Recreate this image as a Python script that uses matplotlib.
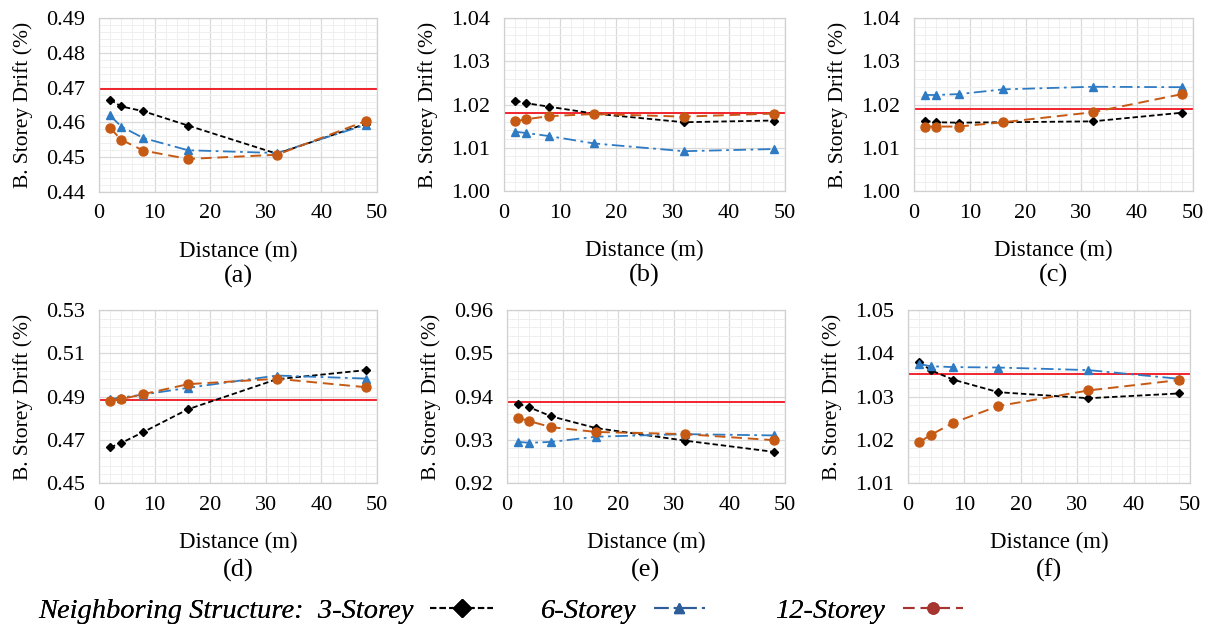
import matplotlib
matplotlib.use("Agg")
import matplotlib.pyplot as plt
from matplotlib.ticker import AutoMinorLocator, FormatStrFormatter
from matplotlib.lines import Line2D

plt.rcParams['font.family'] = ['Liberation Serif', 'DejaVu Serif']

# ---------------- data ----------------
distance = [2, 4, 8, 16, 32, 48]
x_ticks = [0, 10, 20, 30, 40, 50]

a3 = [0.4665, 0.4646, 0.4632, 0.4591, 0.4510, 0.4596]
a6 = [0.4620, 0.4588, 0.4555, 0.4520, 0.4512, 0.4593]
a12 = [0.4584, 0.4550, 0.4519, 0.4495, 0.4507, 0.4604]
a_ref = 0.4696

b3 = [1.0209, 1.0203, 1.0195, 1.0179, 1.0159, 1.0163]
b6 = [1.0137, 1.0134, 1.0127, 1.0110, 1.0092, 1.0097]
b12 = [1.0161, 1.0166, 1.0173, 1.0178, 1.0172, 1.0179]
b_ref = 1.0181

c3 = [1.0162, 1.0159, 1.0158, 1.0159, 1.0161, 1.0181]
c6 = [1.0222, 1.0222, 1.0224, 1.0235, 1.0241, 1.0240]
c12 = [1.0149, 1.0149, 1.0149, 1.0159, 1.0182, 1.0224]
c_ref = 1.0190

d3 = [0.4665, 0.4685, 0.4736, 0.4841, 0.4980, 0.5022]
d6 = [0.4888, 0.4895, 0.4909, 0.4940, 0.4997, 0.4983]
d12 = [0.4880, 0.4888, 0.4911, 0.4957, 0.4982, 0.4943]
d_ref = 0.4883

e3 = [0.9383, 0.9375, 0.9354, 0.9327, 0.9298, 0.9272]
e6 = [0.9295, 0.9293, 0.9295, 0.9307, 0.9313, 0.9310]
e12 = [0.9351, 0.9343, 0.9329, 0.9318, 0.9313, 0.9299]
e_ref = 0.9388

f3 = [1.0380, 1.0361, 1.0339, 1.0310, 1.0296, 1.0307]
f6 = [1.0375, 1.0370, 1.0368, 1.0367, 1.0361, 1.0341]
f12 = [1.0194, 1.0211, 1.0239, 1.0278, 1.0314, 1.0338]
f_ref = 1.0353

panel_labels = ['(a)', '(b)', '(c)', '(d)', '(e)', '(f)']
y_ticks = [
    [0.44, 0.45, 0.46, 0.47, 0.48, 0.49],
    [1.00, 1.01, 1.02, 1.03, 1.04],
    [1.00, 1.01, 1.02, 1.03, 1.04],
    [0.45, 0.47, 0.49, 0.51, 0.53],
    [0.92, 0.93, 0.94, 0.95, 0.96],
    [1.01, 1.02, 1.03, 1.04, 1.05],
]
series_labels = ['3-Storey', '6-Storey', '12-Storey']

panels = [(a3, a6, a12, a_ref), (b3, b6, b12, b_ref), (c3, c6, c12, c_ref),
          (d3, d6, d12, d_ref), (e3, e6, e12, e_ref), (f3, f6, f12, f_ref)]

# ---------------- style ----------------
W, H = 1210, 631
fig = plt.figure(figsize=(W / 100, H / 100), dpi=100)

# axes boxes in pixels: left, top, right, bottom
boxes = [(99, 18, 377, 192), (504, 18, 785, 191), (914, 18, 1193, 191),
         (99, 310, 377, 483), (507, 310, 785, 483), (908, 310, 1190, 483)]

styles = [
    dict(color='black', ls=(0, (3.0, 1.6)), marker='D', ms=4.5, lw=1.3),
    dict(color='#2E7BC4', ls=(0, (7, 2.5, 1.5, 2.5)), marker='^', ms=6, lw=1.3),
    dict(color='#C65A14', ls=(0, (5.5, 3)), marker='o', ms=6.5, lw=1.4),
]

for i, (box, data) in enumerate(zip(boxes, panels)):
    l, t, r, b = box
    ax = fig.add_axes([l / W, 1 - b / H, (r - l) / W, (b - t) / H])
    ref = data[3]
    ax.axhline(ref, color='#F0141E', lw=1.3, zorder=2)
    for ys, st in zip(data[:3], styles):
        ax.plot(distance, ys, color=st['color'], ls=st['ls'], marker=st['marker'],
                ms=st['ms'], lw=st['lw'], zorder=3)
    ax.set_xlim(x_ticks[0], x_ticks[-1])
    ax.set_ylim(y_ticks[i][0], y_ticks[i][-1])
    ax.set_xticks(x_ticks)
    ax.set_yticks(y_ticks[i])
    ax.xaxis.set_minor_locator(AutoMinorLocator(5))
    ax.yaxis.set_minor_locator(AutoMinorLocator(5))
    ax.yaxis.set_major_formatter(FormatStrFormatter('%.2f'))
    ax.grid(which='major', color='#D9D9D9', lw=0.9, zorder=0)
    ax.grid(which='minor', color='#EFEFEF', lw=0.7, zorder=0)
    ax.set_axisbelow(True)
    for sp in ax.spines.values():
        sp.set_color('#D0D0D0')
        sp.set_linewidth(0.9)
    ax.tick_params(which='both', length=0)
    ax.tick_params(axis='x', labelsize=16, pad=9)
    ax.tick_params(axis='y', labelsize=16, pad=10)
    wpx = r - l
    hpx = b - t
    ax.set_ylabel('B. Storey Drift (%)', fontsize=15.5, va='center')
    ax.yaxis.set_label_coords(-76 / wpx, 0.5)
    ax.set_xlabel('Distance (m)', fontsize=16.5, va='center')
    ax.xaxis.set_label_coords(0.5, -59 / hpx)
    ax.text(0.5, -(87 if i >= 3 else 84) / hpx, panel_labels[i], transform=ax.transAxes,
            ha='center', va='center', fontsize=19)

# ---------------- legend row ----------------
leg_colors = ['black', '#2E5E9A', '#A5352E']
leg_ms = [9, 7, 8]
leg_texts = ['Neighboring Structure:  ' + series_labels[0], series_labels[1], series_labels[2]]
leg_x = [38, 541, 776]
leg_hl = [2.2, 1.8, 2.1]
for k in range(3):
    h = Line2D([], [], color=leg_colors[k], ls=styles[k]['ls'], lw=1.5,
               marker=styles[k]['marker'], ms=leg_ms[k])
    lg = fig.legend([h], [leg_texts[k]], loc='center left', bbox_to_anchor=(leg_x[k] / W, 1 - 611 / H),
                    frameon=False, markerfirst=False, handlelength=leg_hl[k], handletextpad=0.6,
                    borderpad=0, borderaxespad=0, prop={'family': 'Liberation Serif', 'style': 'italic', 'size': 20.5})
    fig.add_artist(lg)

fig.savefig('out.png', dpi=100)
